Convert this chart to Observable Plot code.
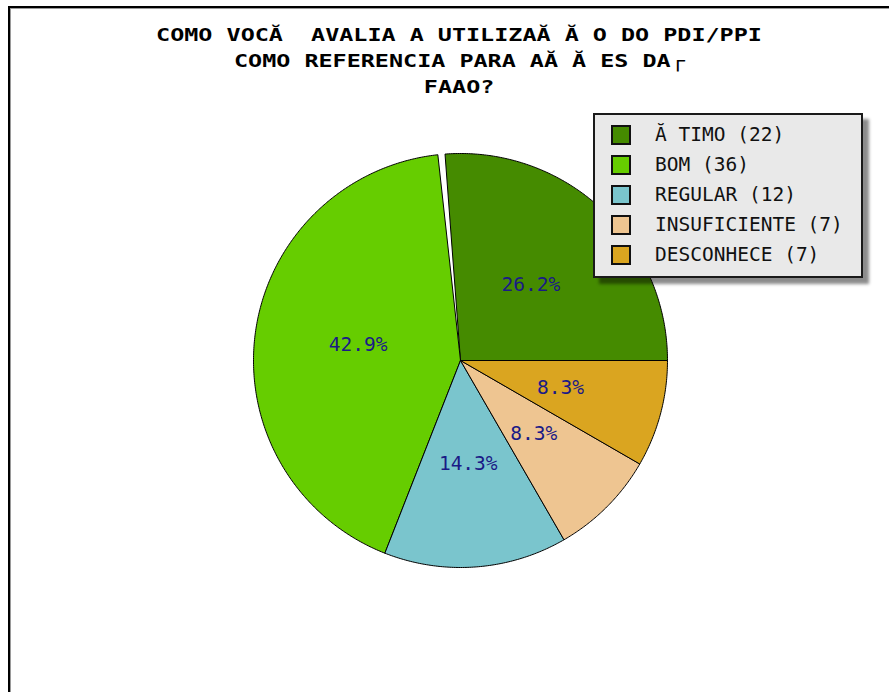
<!DOCTYPE html>
<html>
<head>
<meta charset="utf-8">
<script src="https://cdn.jsdelivr.net/npm/d3@7"></script>
<script src="https://cdn.jsdelivr.net/npm/@observablehq/plot@0.6"></script>
<style>
  html, body { margin: 0; padding: 0; background: #fff; }
  #wrap { position: relative; width: 889px; height: 692px; overflow: hidden; background: #fff; }
  #frame { position: absolute; left: 8px; top: 6px; width: 920px; height: 720px;
           border-left: 2px solid #000; border-top: 2px solid #000;
           box-shadow: inset 1px 1px 0 #9a9a9a; }
  #chart { position: absolute; left: 0; top: 0; }
  #title { position: absolute; left: 0; top: 22px; width: 918px; text-align: center;
           font-family: "DejaVu Sans Mono", monospace; font-weight: bold; font-size: 18px; color: #000; }
  #title div { height: 26px; line-height: 26px; white-space: pre; }
  #title span { display: inline-block; transform: scaleX(1.3); transform-origin: center; white-space: pre; }
  #legend { position: absolute; left: 593px; top: 113px; width: 270px; height: 165px; box-sizing: border-box;
            background: #e9e9e9; border: 2px solid #1a1a1a; padding-top: 5px;
            box-shadow: 6px 6px 3px rgba(0,0,0,0.45);
            font-family: "DejaVu Sans Mono", monospace; font-size: 19.5px; color: #111; }
  .row { display: flex; align-items: center; height: 30px; line-height: 30px; white-space: pre; }
  .sw { width: 20px; height: 20px; box-sizing: border-box; border: 2px solid #111; margin-left: 16px; margin-right: 24px; }
</style>
</head>
<body>
<div id="wrap">
  <div id="frame"></div>
  <div id="chart"></div>
  <div id="title"></div>
  <div id="legend"></div>
</div>
<script>
// ---- data ----
const categories = ["Ă TIMO", "BOM", "REGULAR", "INSUFICIENTE", "DESCONHECE"];
const counts = [22, 36, 12, 7, 7];
const colors = ["#458B00", "#66CD00", "#7AC5CD", "#EEC591", "#DAA520"];
const titleLines = ["COMO VOCĂ  AVALIA A UTILIZAĂ Ă O DO PDI/PPI", "COMO REFERENCIA PARA AĂ Ă ES DA┌", "FAAO?"];
const labelColor = "#1a1a86";
// thin white sliver visible in the reference between the first two slices
const renderGapDeg = 2.0;

// ---- build slices (counter-clockwise from 3 o'clock) ----
const total = d3.sum(counts);
let acc = 0;
const slices = categories.map((cat, i) => {
  const a0 = acc / total * 360;
  acc += counts[i];
  const a1 = acc / total * 360;
  return {cat, count: counts[i], a0, a1, mid: (a0 + a1) / 2};
});

const points = [];
slices.forEach((s, i) => {
  const start = i === 1 ? s.a0 + renderGapDeg : s.a0;
  const n = Math.max(2, Math.ceil((s.a1 - start) / 0.5));
  points.push({cat: s.cat, x: 0, y: 0});
  for (let k = 0; k <= n; k++) {
    const a = (start + (s.a1 - start) * k / n) * Math.PI / 180;
    points.push({cat: s.cat, x: Math.cos(a), y: Math.sin(a)});
  }
  points.push({cat: s.cat, x: 0, y: 0});
});

const labels = slices.map(s => ({
  x: 0.5 * Math.cos(s.mid * Math.PI / 180),
  y: 0.5 * Math.sin(s.mid * Math.PI / 180),
  text: (s.count / total * 100).toFixed(1) + "%"
}));

const chart = Plot.plot({
  width: 889,
  height: 692,
  marginLeft: 253,
  marginRight: 222,
  marginTop: 153,
  marginBottom: 125,
  style: {background: "transparent"},
  x: {domain: [-1, 1], axis: null},
  y: {domain: [-1, 1], axis: null},
  color: {domain: categories, range: colors},
  marks: [
    Plot.line(points, {x: "x", y: "y", z: "cat", fill: "cat", stroke: "#000", strokeWidth: 1, curve: "linear-closed"}),
    Plot.text(labels, {x: "x", y: "y", text: "text", fill: labelColor,
      fontFamily: "DejaVu Sans Mono", fontSize: 19.5, textAnchor: "middle"})
  ]
});
document.getElementById("chart").appendChild(chart);

// ---- title ----
const t = document.getElementById("title");
titleLines.forEach(line => {
  const d = document.createElement("div");
  const s = document.createElement("span");
  s.textContent = line;
  d.appendChild(s);
  t.appendChild(d);
});

// ---- legend ----
const lg = document.getElementById("legend");
categories.forEach((c, i) => {
  const r = document.createElement("div");
  r.className = "row";
  const sw = document.createElement("div");
  sw.className = "sw";
  sw.style.background = colors[i];
  const tx = document.createElement("span");
  tx.textContent = `${c} (${counts[i]})`;
  r.appendChild(sw);
  r.appendChild(tx);
  lg.appendChild(r);
});
</script>
</body>
</html>
